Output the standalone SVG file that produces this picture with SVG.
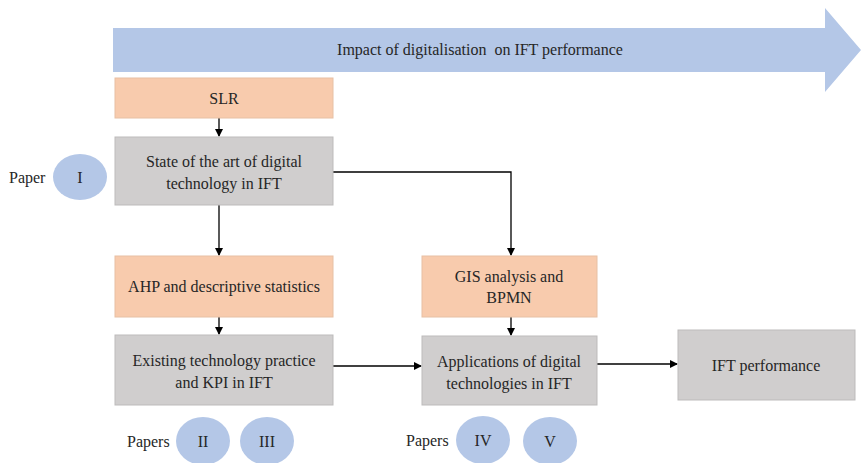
<svg xmlns="http://www.w3.org/2000/svg" width="861" height="463" viewBox="0 0 861 463">
  <style>
    text { font-family: "Times New Roman", Times, "Liberation Serif", Tinos, "DejaVu Serif", "Noto Serif", serif; font-size: 16px; fill: #262626; text-anchor: middle; }
    .method { fill: #F8CBAD; stroke: #E7C0A4; stroke-width: 1; }
    .result { fill: #D0CECE; stroke: #BDBBBB; stroke-width: 1; }
    .paper { fill: #B4C7E7; }
    .lbl { text-anchor: start; }
    .conn { fill: none; stroke: #000; stroke-width: 1.3; }
  </style>
  <defs>
    <marker id="head" markerWidth="8" markerHeight="8" refX="7" refY="4" orient="auto" markerUnits="userSpaceOnUse">
      <path d="M0,0 L8,4 L0,8 Z" fill="#000"/>
    </marker>
  </defs>

  <!-- Overall theme arrow -->
  <g id="theme">
    <polygon points="113,28 825,28 825,8 861,50 825,92 825,72 113,72" fill="#B4C7E7"/>
    <text x="480" y="55">Impact of digitalisation&#160; on IFT performance</text>
  </g>

  <!-- Connectors -->
  <g id="connectors">
    <line class="conn" x1="219" y1="118" x2="219" y2="136" marker-end="url(#head)"/>
    <line class="conn" x1="219" y1="205" x2="219" y2="255" marker-end="url(#head)"/>
    <polyline class="conn" points="333,172 511,172 511,255" marker-end="url(#head)"/>
    <line class="conn" x1="219" y1="317" x2="219" y2="334" marker-end="url(#head)"/>
    <line class="conn" x1="511" y1="317" x2="511" y2="335" marker-end="url(#head)"/>
    <line class="conn" x1="333" y1="366" x2="421" y2="366" marker-end="url(#head)"/>
    <line class="conn" x1="597" y1="364" x2="677" y2="364" marker-end="url(#head)"/>
  </g>

  <g id="slr">
    <rect class="method" x="115" y="78" width="218" height="40"/>
    <text x="224" y="104">SLR</text>
  </g>

  <g id="state-of-art">
    <rect class="result" x="115" y="137" width="218" height="68"/>
    <text x="224" y="167">State of the art of digital</text>
    <text x="224" y="189">technology in IFT</text>
  </g>

  <g id="paper-1">
    <text class="lbl" x="9" y="183">Paper</text>
    <ellipse class="paper" cx="80" cy="177" rx="27" ry="23"/>
    <text x="80" y="183">I</text>
  </g>

  <g id="ahp">
    <rect class="method" x="115" y="256" width="218" height="61"/>
    <text x="224" y="292">AHP and descriptive statistics</text>
  </g>

  <g id="existing">
    <rect class="result" x="115" y="335" width="218" height="70"/>
    <text x="224" y="366">Existing technology practice</text>
    <text x="224" y="388">and KPI in IFT</text>
  </g>

  <g id="gis">
    <rect class="method" x="422" y="256" width="175" height="61"/>
    <text x="509" y="282">GIS analysis and</text>
    <text x="509" y="303">BPMN</text>
  </g>

  <g id="applications">
    <rect class="result" x="422" y="336" width="175" height="69"/>
    <text x="509" y="367">Applications of digital</text>
    <text x="509" y="389">technologies in IFT</text>
  </g>

  <g id="ift-performance">
    <rect class="result" x="678" y="330" width="177" height="70"/>
    <text x="766" y="371">IFT performance</text>
  </g>

  <g id="papers-2-3">
    <text class="lbl" x="127" y="447">Papers</text>
    <ellipse class="paper" cx="203" cy="441" rx="27" ry="24"/>
    <text x="203" y="447">II</text>
    <ellipse class="paper" cx="267" cy="441" rx="27" ry="24"/>
    <text x="267" y="447">III</text>
  </g>

  <g id="papers-4-5">
    <text class="lbl" x="406" y="446">Papers</text>
    <ellipse class="paper" cx="483" cy="440" rx="27" ry="24"/>
    <text x="483" y="446">IV</text>
    <ellipse class="paper" cx="550" cy="441" rx="27" ry="24"/>
    <text x="550" y="447">V</text>
  </g>
</svg>
